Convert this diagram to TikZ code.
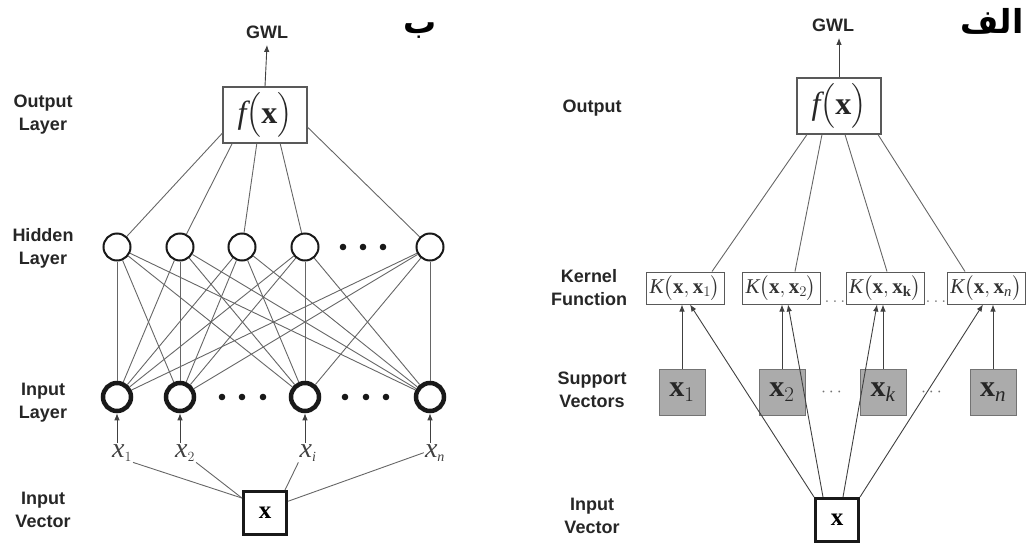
\RequirePackage{fix-cm}
\documentclass[tikz,border=0pt]{standalone}
\usepackage{amsmath}
\usepackage{fontspec}
\setsansfont{Liberation Sans}
\setmathrm{Liberation Serif}
\newfontfamily\arabicfont[Script=Arabic]{DejaVu Sans}
\TeXXeTstate=1
\usetikzlibrary{arrows.meta,calc}

\tikzset{
  lab/.style={font=\sffamily\bfseries\fontsize{18}{23}\selectfont, text=black!85, align=center},
  wire/.style={draw=black!60, line width=0.9pt},
  arr/.style={draw=black!75, line width=0.9pt, -{Latex[length=7pt,width=5.5pt]}},
  hid/.style={circle, draw=black!90, line width=2pt, minimum size=27pt, inner sep=0pt},
  inp/.style={circle, draw=black!90, line width=4.5pt, minimum size=28pt, inner sep=0pt},
  outbox/.style={draw=black!65, line width=1.1pt, fill=white, minimum width=84pt, minimum height=56pt, inner sep=0pt, font=\fontsize{32}{36}\selectfont, text=black!85},
  kbox/.style={draw=black!65, line width=1pt, fill=white, minimum width=78pt, minimum height=32pt, inner sep=1pt, font=\fontsize{21}{24}\selectfont, text=black!80},
  svbox/.style={draw=black!55, line width=1pt, fill=black!33, minimum size=46pt, inner sep=0pt, font=\fontsize{30}{32}\selectfont, text=black!85},
  vecbox/.style={draw=black!90, line width=3pt, fill=white, minimum size=43pt, inner sep=0pt, font=\fontsize{25}{28}\selectfont},
  xlab/.style={font=\fontsize{28}{32}\selectfont, text=black!75, inner sep=1pt, anchor=base},
  dotlab/.style={font=\fontsize{18}{20}\selectfont, text=black!55, inner sep=0pt},
  arab/.style={font=\arabicfont\bfseries\fontsize{33}{36}\selectfont, anchor=base}
}

\begin{document}
\begin{tikzpicture}[x=1pt,y=-1pt]
    \useasboundingbox (0,0) rectangle (1026,544);

    %%% Left panel (b): neural network

    % Titles and labels
    \node[arab] (titleB) at (420,33) {\beginR ب\endR};
    \node[lab] (gwlB) at (267,32) {GWL};
    \node[lab] (labOutB) at (43,115) {Output\\Layer};
    \node[lab] (labHid) at (43,248) {Hidden\\Layer};
    \node[lab] (labInp) at (43,403) {Input\\Layer};
    \node[lab] (labVecB) at (43,510) {Input\\Vector};

    % Output layer
    \node[outbox] (out) at (265,115) {$\mathit{f}\bigl(\mathbf{x}\bigr)$};
    \draw[arr] (out.north) -- ($(gwlB.south)+(0,3)$);

    % Hidden layer
    \foreach \n/\x in {1/117,2/180,3/242,4/305,5/430}
        \node[hid] (h\n) at (\x,247) {};
    \foreach \x in {343,363,383}
        \fill[black!90] (\x,247) circle (3.3pt);

    % Input layer
    \foreach \n/\x in {1/117,2/180,3/305,4/430}
        \node[inp] (i\n) at (\x,397) {};
    \foreach \x in {222,242,263,345,366,386}
        \fill[black!90] (\x,397) circle (3.3pt);

    % Connections
    \foreach \n/\a in {1/203,2/221,3/254,4/298,5/344}
        \draw[wire] (h\n) -- (out.\a);
    \foreach \a in {1,...,5}
        \foreach \b in {1,...,4}
            \draw[wire] (h\a) -- (i\b);

    % Input values
    \node[xlab] (xl1) at (122,457) {$\mathit{x}_{\scriptscriptstyle 1}$};
    \node[xlab] (xl2) at (185,457) {$\mathit{x}_{\scriptscriptstyle 2}$};
    \node[xlab] (xl3) at (308,457) {$\mathit{x}_{\scriptscriptstyle \mathit{i}}$};
    \node[xlab] (xl4) at (435,457) {$\mathit{x}_{\scriptscriptstyle \mathit{n}}$};
    \foreach \n in {1,...,4}
        \draw[arr] (i\n |- xl\n.north) -- (i\n);

    % Input vector
    \node[vecbox] (vec) at (265,513) {$\mathbf{x}$};
    \draw[wire] (xl1.south east) -- (vec.147);
    \draw[wire] (xl2.south east) -- (vec.147);
    \draw[wire] (xl3.south west) -- (vec.49);
    \draw[wire] (xl4.west) -- (vec.27);

    %%% Right panel (a): support vector machine

    % Titles and labels
    \node[arab] (titleA) at (992,33) {\beginR الف\endR};
    \node[lab] (gwlA) at (833,25) {GWL};
    \node[lab] (labOutA) at (592,108) {Output};
    \node[lab] (labKer) at (589,288) {Kernel\\Function};
    \node[lab] (labSup) at (592,390) {Support\\Vectors};
    \node[lab] (labVecA) at (592,516) {Input\\Vector};

    % Output
    \node[outbox] (fx) at (839,106) {$\mathit{f}\bigl(\mathbf{x}\bigr)$};
    \draw[arr] (fx.north) -- ($(fx.north |- gwlA.south)+(0,3)$);

    % Kernel functions
    \node[kbox] (k1) at (685,288) {$\mathit{K}\bigl(\mathbf{x},\mathbf{x}_1\bigr)$};
    \node[kbox] (k2) at (781,288) {$\mathit{K}\bigl(\mathbf{x},\mathbf{x}_2\bigr)$};
    \node[kbox] (k3) at (885,288) {$\mathit{K}\bigl(\mathbf{x},\mathbf{x}_{\mathbf{k}}\bigr)$};
    \node[kbox] (k4) at (986,288) {$\mathit{K}\bigl(\mathbf{x},\mathbf{x}_{\mathit{n}}\bigr)$};
    \node[dotlab, anchor=base] (kd1) at (835,302) {$\ldots$};
    \node[dotlab, anchor=base] (kd2) at (936,302) {$\ldots$};

    \draw[wire] ($(fx.south)+(-32,0)$) -- ($(k1.north)+(27,0)$);
    \draw[wire] ($(fx.south)+(-17,0)$) -- ($(k2.north)+(14,0)$);
    \draw[wire] ($(fx.south)+(6,0)$) -- ($(k3.north)+(2,0)$);
    \draw[wire] ($(fx.south)+(39,0)$) -- ($(k4.north)+(-21,0)$);

    % Support vectors
    \node[svbox] (s1) at (682,392) {$\mathbf{x}_1$};
    \node[svbox] (s2) at (782,392) {$\mathbf{x}_2$};
    \node[svbox] (s3) at (883,392) {$\mathbf{x}_{\mathit{k}}$};
    \node[svbox] (s4) at (993,392) {$\mathbf{x}_{\mathit{n}}$};
    \node[dotlab] (sd1) at (833,392) {$\cdots$};
    \node[dotlab] (sd2) at (933,392) {$\cdots$};

    \foreach \n in {1,...,4}
        \draw[arr] (s\n.north) -- (s\n.north |- k\n.south);

    % Input vector
    \node[vecbox] (xin) at (837,520) {$\mathbf{x}$};
    \draw[arr] (xin.north west) -- ($(k1.south)+(5,0)$);
    \draw[arr] ($(xin.north)+(-14,0)$) -- ($(k2.south)+(7,0)$);
    \draw[arr] ($(xin.north)+(6,0)$) -- ($(k3.south)+(-8,0)$);
    \draw[arr] (xin.north east) -- ($(k4.south)+(-3,0)$);

\end{tikzpicture}
\end{document}
